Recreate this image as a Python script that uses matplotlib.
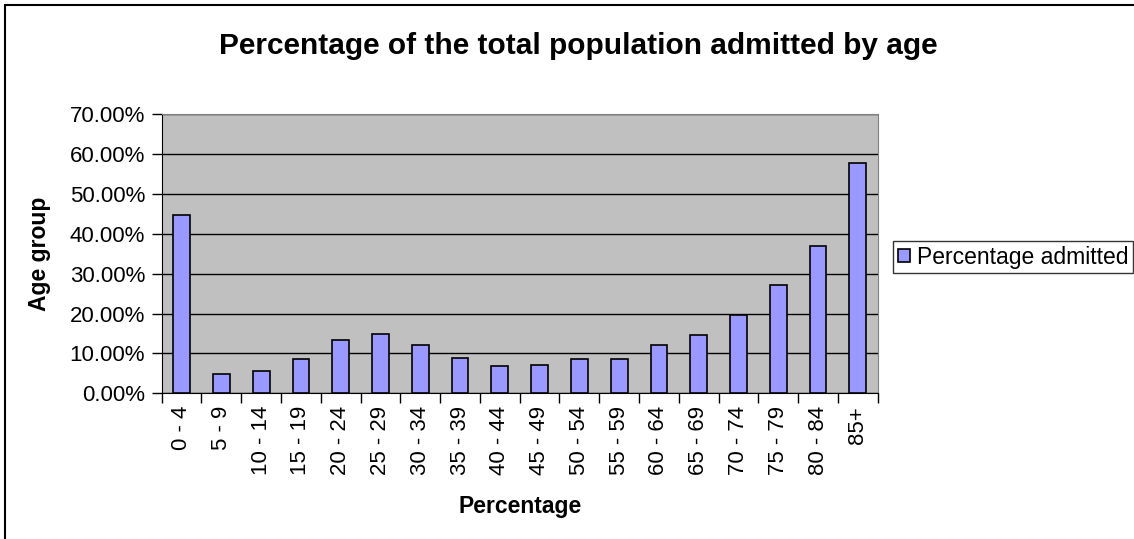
import numpy as np
import matplotlib
matplotlib.use("Agg")
import matplotlib.pyplot as plt
from matplotlib.patches import Rectangle
from matplotlib.ticker import FuncFormatter, FixedLocator

plt.rcParams["font.family"] = ["Liberation Sans", "DejaVu Sans"]

# ---- data ----
age_groups = ["0 - 4", "5 - 9", "10 - 14", "15 - 19", "20 - 24", "25 - 29",
              "30 - 34", "35 - 39", "40 - 44", "45 - 49", "50 - 54", "55 - 59",
              "60 - 64", "65 - 69", "70 - 74", "75 - 79", "80 - 84", "85+"]
pct_admitted = [44.7, 4.9, 5.6, 8.5, 13.5, 14.9, 12.0, 8.9, 6.8,
                7.0, 8.5, 8.5, 12.0, 14.6, 19.6, 27.3, 37.0, 57.7]
series_name = "Percentage admitted"

fig = plt.figure(figsize=(11.34, 5.39), dpi=100)
ax = fig.add_axes([0.1426, 0.2703, 0.6314, 0.5176])

x = np.arange(len(age_groups))
ax.set_facecolor("#C0C0C0")
ax.bar(x, pct_admitted, width=0.42, color="#9999FF", edgecolor="black",
       linewidth=1.2, label=series_name, zorder=3)

ax.set_xlim(-0.5, len(age_groups) - 0.5)
ax.set_ylim(0, 70)
ax.set_yticks(np.arange(0, 71, 10))
ax.yaxis.set_major_formatter(FuncFormatter(lambda v, p: f"{v:.2f}%"))
ax.grid(axis="y", color="black", lw=1, zorder=1)

ax.set_xticks(x)
ax.set_xticklabels(age_groups, rotation=90, fontsize=16)
ax.tick_params(axis="x", which="major", length=0, pad=9)
ax.xaxis.set_minor_locator(FixedLocator(np.arange(-0.5, len(age_groups), 1)))
ax.tick_params(axis="x", which="minor", length=7, width=1, direction="out")
ax.tick_params(axis="y", length=7, width=1, direction="out", labelsize=16, pad=5)

for s in ("top", "right"):
    ax.spines[s].set_color("#808080")
for s in ("left", "bottom"):
    ax.spines[s].set_color("black")

fig.text(0.51, 0.915, "Percentage of the total population admitted by age",
         ha="center", va="center", fontsize=21.5, fontweight="bold")
fig.text(0.035, 0.53, "Age group", rotation=90, ha="center", va="center",
         fontsize=16.5, fontweight="bold")
fig.text(0.4586, 0.061, "Percentage", ha="center", va="center",
         fontsize=16.5, fontweight="bold")

leg = fig.legend(loc="center left", bbox_to_anchor=(0.7875, 0.523), fontsize=16.5,
                 frameon=True, fancybox=False, edgecolor="black",
                 handlelength=0.55, handleheight=0.55, handletextpad=0.3,
                 borderpad=0.2, borderaxespad=0)
leg.get_frame().set_linewidth(1)

# outer chart border
fig.patches.append(Rectangle((0.0045, -0.01), 1.1, 1.0, transform=fig.transFigure,
                             fill=False, edgecolor="black", lw=1.5))

fig.savefig("out.png", dpi=100)
